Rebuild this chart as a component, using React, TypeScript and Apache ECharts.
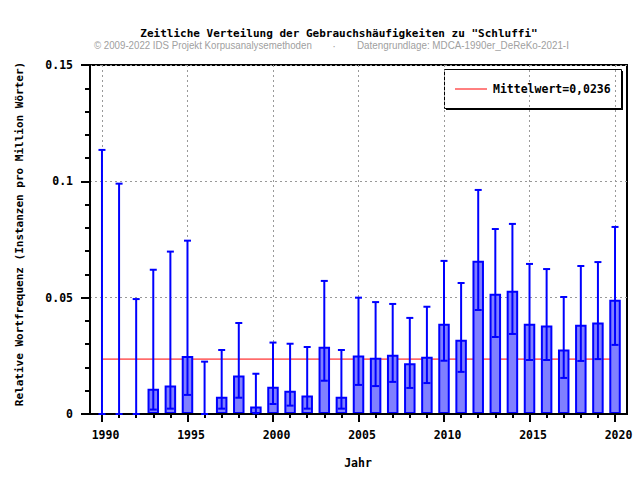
import React, { useEffect, useRef } from "react";
import * as echarts from "echarts";

const years = [1990, 1991, 1992, 1993, 1994, 1995, 1996, 1997, 1998, 1999, 2000, 2001, 2002, 2003, 2004, 2005, 2006, 2007, 2008, 2009, 2010, 2011, 2012, 2013, 2014, 2015, 2016, 2017, 2018, 2019, 2020];
const freq = [0, 0, 0, 0.0109, 0.0122, 0.0249, 0, 0.0074, 0.0165, 0.0032, 0.0117, 0.01, 0.0079, 0.0289, 0.0074, 0.0251, 0.0242, 0.0255, 0.0218, 0.0246, 0.0388, 0.0319, 0.0659, 0.0517, 0.053, 0.0388, 0.038, 0.0277, 0.0384, 0.0393, 0.0491];
const lower = [0, 0, 0, 0.0019, 0.0023, 0.0082, 0, 0.0023, 0.007, 0.0003, 0.0043, 0.0036, 0.0023, 0.0143, 0.0023, 0.0125, 0.012, 0.0138, 0.0112, 0.0133, 0.0229, 0.0181, 0.0447, 0.0331, 0.0344, 0.0232, 0.0232, 0.0155, 0.0228, 0.0236, 0.0297];
const upper = [0.1135, 0.099, 0.0494, 0.062, 0.0698, 0.0745, 0.0225, 0.0275, 0.0391, 0.0173, 0.0307, 0.0302, 0.0288, 0.0572, 0.0275, 0.05, 0.0481, 0.0473, 0.0413, 0.0461, 0.0658, 0.0563, 0.0963, 0.0795, 0.0817, 0.0645, 0.0623, 0.0503, 0.0636, 0.0653, 0.0804];
const meanValue = 0.0236;
const majorYears = [1990, 1995, 2000, 2005, 2010, 2015, 2020];

const titleText = 'Zeitliche Verteilung der Gebrauchshäufigkeiten zu "Schluffi"';
const creditLeft = "© 2009-2022 IDS Projekt Korpusanalysemethoden";
const creditDot = "·";
const creditRight = "Datengrundlage: MDCA-1990er_DeReKo-2021-I";
const legendText = "Mittelwert=0,0236";
const xName = "Jahr";
const yName = "Relative Wortfrequenz (Instanzen pro Million Wörter)";

const MONO = "'DejaVu Sans Mono', monospace";
const SANS = "'Liberation Sans', Arial, sans-serif";

function fitScale(text: string, font: string, target: number): number {
  try {
    const c = document.createElement("canvas").getContext("2d");
    if (!c) return 1;
    c.font = font;
    const w = c.measureText(text).width;
    return w > 0 ? target / w : 1;
  } catch (e) {
    return 1;
  }
}

export default function App() {
  const ref = useRef<HTMLDivElement>(null);

  useEffect(() => {
    if (!ref.current) return;
    const chart = echarts.init(ref.current, null, { renderer: "svg" });
    const xMin = 1989.3;
    const xMax = 2020.7;

    const creditFont = "11px 'Liberation Sans'";
    const sL = fitScale(creditLeft, creditFont, 218);
    const sR = fitScale(creditRight, creditFont, 212);

    const option: any = {
      animation: false,
      backgroundColor: "#ffffff",
      grid: {
        left: 90,
        right: 13,
        top: 65,
        bottom: 66,
        show: true,
        borderColor: "#000",
        borderWidth: 2,
        backgroundColor: "transparent",
      },
      xAxis: [
        {
          type: "value",
          position: "bottom",
          min: xMin,
          max: xMax,
          z: 10,
          axisLine: { show: true, onZero: false, lineStyle: { color: "#000", width: 2 } },
          axisTick: { show: true, customValues: years, length: 4, lineStyle: { color: "#000", width: 2 } },
          axisLabel: { show: false },
          splitLine: { show: false },
        },
        {
          type: "value",
          position: "bottom",
          min: xMin,
          max: xMax,
          z: 0,
          axisLine: { show: false, onZero: false },
          axisTick: { show: true, customValues: majorYears, length: 8, lineStyle: { color: "#000", width: 2 } },
          axisLabel: {
            show: true,
            customValues: majorYears,
            formatter: (v: number) => String(v),
            fontFamily: MONO,
            fontWeight: "bold",
            fontSize: 11.5,
            color: "#000",
            margin: 15,
            padding: [0, 0, 0, 7],
          },
          splitLine: { show: true, lineStyle: { color: "#999", width: 1, type: [2, 3] } },
        },
      ],
      yAxis: {
        type: "value",
        min: 0,
        max: 0.15,
        interval: 0.05,
        axisLine: { show: true, onZero: false, lineStyle: { color: "#000", width: 2 } },
        axisTick: { show: true, length: 9, lineStyle: { color: "#000", width: 2 } },
        minorTick: { show: true, splitNumber: 5, length: 5, lineStyle: { color: "#000", width: 2 } },
        axisLabel: {
          fontFamily: MONO,
          fontWeight: "bold",
          fontSize: 11.5,
          color: "#000",
          margin: 17,
        },
        splitLine: { show: true, lineStyle: { color: "#999", width: 1, type: [2, 3] } },
      },
      series: [
        {
          type: "line",
          name: "Mittelwert",
          xAxisIndex: 0,
          data: [
            [years[0], meanValue],
            [years[years.length - 1], meanValue],
          ],
          symbol: "none",
          silent: true,
          z: 1,
          lineStyle: { color: "#ff0000", width: 1 },
        },
        {
          type: "bar",
          xAxisIndex: 0,
          data: years.map((y, i) => [y, freq[i]]),
          barWidth: 11.5,
          z: 2,
          itemStyle: { color: "#8080ff", borderColor: "#0000ff", borderWidth: 2 },
        },
        {
          type: "custom",
          xAxisIndex: 0,
          z: 12,
          encode: { x: 0, y: [1, 2] },
          data: years.map((y, i) => [y, lower[i], upper[i]]),
          renderItem: (params: any, api: any) => {
            const x = api.value(0);
            const lo = api.coord([x, api.value(1)]);
            const hi = api.coord([x, api.value(2)]);
            const cx = lo[0];
            const style = { stroke: "#0000ff", lineWidth: 2 };
            return {
              type: "group",
              children: [
                { type: "line", shape: { x1: cx, y1: lo[1], x2: cx, y2: hi[1] }, style },
                { type: "line", shape: { x1: cx - 3.5, y1: hi[1], x2: cx + 3.5, y2: hi[1] }, style },
                { type: "line", shape: { x1: cx - 3.5, y1: lo[1], x2: cx + 3.5, y2: lo[1] }, style },
              ],
            };
          },
        },
      ],
      graphic: [
        {
          type: "text",
          x: 339,
          y: 33,
          style: { text: titleText, font: `bold 11px ${MONO}`, fill: "#000", align: "center", verticalAlign: "middle" },
        },
        {
          type: "text",
          x: 94,
          y: 45.5,
          scaleX: sL,
          style: { text: creditLeft, font: creditFont, fill: "#a0a0a0", align: "left", verticalAlign: "middle" },
        },
        {
          type: "text",
          x: 334,
          y: 45.5,
          style: { text: creditDot, font: creditFont, fill: "#a0a0a0", align: "center", verticalAlign: "middle" },
        },
        {
          type: "text",
          x: 357,
          y: 45.5,
          scaleX: sR,
          style: { text: creditRight, font: creditFont, fill: "#a0a0a0", align: "left", verticalAlign: "middle" },
        },
        {
          type: "text",
          x: 358,
          y: 462.5,
          style: { text: xName, font: `bold 11.5px ${MONO}`, fill: "#000", align: "center", verticalAlign: "middle" },
        },
        {
          type: "text",
          x: 19,
          y: 234,
          rotation: Math.PI / 2,
          style: { text: yName, font: `bold 11px ${MONO}`, fill: "#000", align: "center", verticalAlign: "middle" },
        },
        {
          type: "group",
          z: 100,
          children: [
            { type: "rect", shape: { x: 446, y: 71, width: 177, height: 39 }, style: { fill: "#000" } },
            { type: "rect", shape: { x: 444.5, y: 69.5, width: 177, height: 39 }, style: { fill: "#fff", stroke: "#000", lineWidth: 1 } },
            { type: "line", shape: { x1: 455, y1: 89, x2: 487, y2: 89 }, style: { stroke: "#ff0000", lineWidth: 1 } },
            {
              type: "text",
              x: 493,
              y: 89,
              style: { text: legendText, font: `bold 11.5px ${MONO}`, fill: "#000", align: "left", verticalAlign: "middle" },
            },
          ],
        },
      ],
    };

    chart.setOption(option);
    return () => chart.dispose();
  }, []);

  return (
    <div
      ref={ref}
      style={{ position: "fixed", left: 0, top: 0, width: 640, height: 480, background: "#fff" }}
    />
  );
}
